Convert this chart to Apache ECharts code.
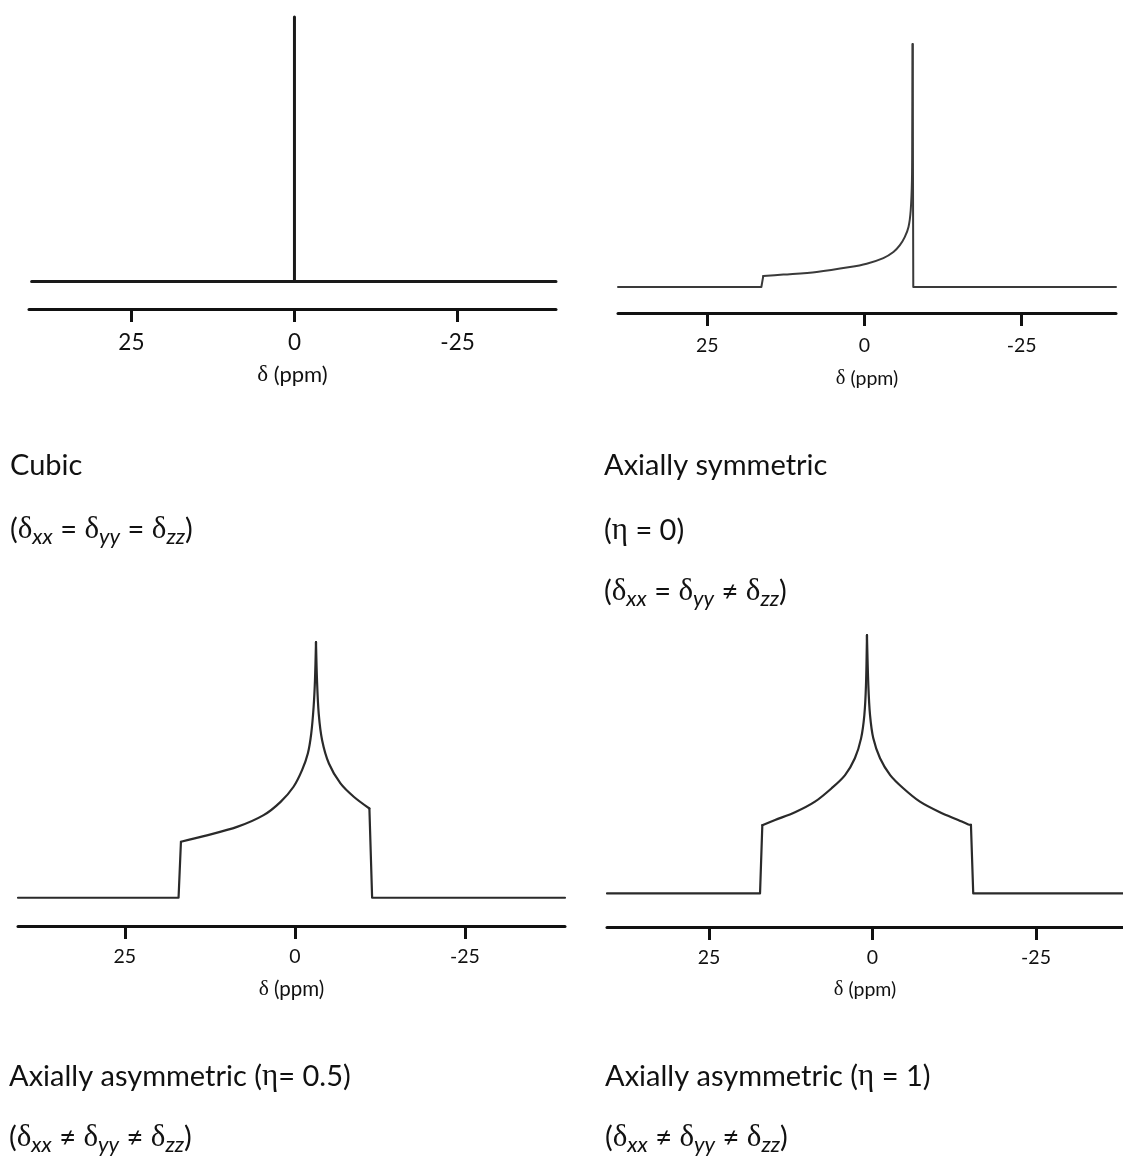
<!DOCTYPE html>
<html>
<head>
<meta charset="utf-8">
<script src="https://cdn.jsdelivr.net/npm/echarts@6/dist/echarts.min.js"></script>
<style>
html,body{margin:0;padding:0;background:#fff;}
#chart{width:1123px;height:1156px;}
</style>
</head>
<body>
<div id="chart"></div>
<script>
// ---- data (chemical shift in ppm, intensity in arbitrary units, peak = 100) ----
const tickValues = [25, 0, -25];
const axisTitle = '{g|δ} (ppm)';

// Cubic
const cubicShift = [40.3, 0, 0, 0, -40.1];
const cubicIntensity = [0, 0, 100, 0, 0];

// Axially symmetric (eta = 0)
const symShift = [39.2, 16.4, 16.1, 12.9, 7.6, 2.3, -0.35, -3.0, -4.6, -5.6, -6.4, -7.0, -7.35, -7.55, -7.6, -7.66, -7.76, -40.0];
const symIntensity = [0, 0, 4.5, 5.1, 6.2, 8.2, 9.6, 11.9, 14.4, 17.1, 20.5, 24.7, 31.5, 43.9, 64.4, 100, 0, 0];

// Axially asymmetric (eta = 0.5)
const halfShift = [40.7, 17.1, 16.75, 13.4, 8.5, 4.6, 2.1, 0.2, -1.05, -1.9, -2.4, -2.75, -2.95, -3.1, -3.25, -3.5, -4.0, -5.0, -6.7, -8.65, -10.95, -11.35, -39.7];
const halfIntensity = [0, 0, 21.9, 24.1, 27.7, 32.3, 37.5, 43.4, 49.9, 56.4, 64.2, 74.6, 85.0, 100, 85.0, 72.0, 61.6, 52.5, 44.7, 39.5, 34.9, 0, 0];

// Axially asymmetric (eta = 1)
const fullShift = [40.6, 17.2, 16.85, 14.9, 11.85, 8.8, 6.25, 4.2, 2.7, 1.75, 1.25, 1.0, 0.85, 0.64, 0.38, -0.12, -1.15, -2.7, -4.7, -7.25, -10.3, -13.1, -14.65, -15.05, -15.4, -38.3];
const fullIntensity = [0, 0, 26.4, 28.4, 31.4, 35.5, 40.7, 45.8, 52.3, 60.0, 69.0, 80.6, 100, 80.6, 69.0, 60.0, 52.3, 45.8, 40.7, 35.5, 31.4, 28.4, 26.7, 26.5, 0, 0];

// captions
const captions = [
  ['Cubic', '({g|δ}{s|xx} = {g|δ}{s|yy} = {g|δ}{s|zz})'],
  ['Axially symmetric', '({g|η} = 0)', '({g|δ}{s|xx} = {g|δ}{s|yy} ≠ {g|δ}{s|zz})'],
  ['Axially asymmetric ({g|η}= 0.5)', '({g|δ}{s|xx} ≠ {g|δ}{s|yy} ≠ {g|δ}{s|zz})'],
  ['Axially asymmetric ({g|η} = 1)', '({g|δ}{s|xx} ≠ {g|δ}{s|yy} ≠ {g|δ}{s|zz})']
];

function zip(a, b) { return a.map((v, i) => [v, b[i]]); }

const SANS = 'Lato, "Open Sans", sans-serif';
const SERIF = '"Liberation Serif", "DejaVu Serif", serif';
const INK = '#111';

// panel layout: grid box, x range, y min, fonts; segments = [startIdx, endIdx, smooth]
const panels = [
  {grid: {left: 29, top: 17, width: 527, height: 292}, xmin: -40.1, xmax: 40.7, ymin: -10.4,
   lab: 22.5, labMargin: 22, name: 22, nameGap: 54, data: zip(cubicShift, cubicIntensity), lw: 3, lc: '#1a1a1a',
   segs: [[0, 4, false]]},
  {grid: {left: 618, top: 44, width: 498, height: 269}, xmin: -40.0, xmax: 39.2, ymin: -10.7,
   lab: 19.5, labMargin: 23, name: 19.5, nameGap: 55, data: zip(symShift, symIntensity), lw: 2, lc: '#3a3a3a',
   segs: [[0, 2, false], [2, 15, true], [15, 17, false]]},
  {grid: {left: 18, top: 642, width: 547, height: 284}, xmin: -39.7, xmax: 40.7, ymin: -11.05,
   lab: 19.5, labMargin: 21, name: 20.5, nameGap: 52, data: zip(halfShift, halfIntensity), lw: 2.2, lc: '#2a2a2a',
   segs: [[0, 2, false], [2, 13, true], [13, 20, true], [20, 22, false]]},
  {grid: {left: 607, top: 635, width: 516, height: 292}, xmin: -38.3, xmax: 40.6, ymin: -13.0,
   lab: 19.5, labMargin: 21, name: 19.5, nameGap: 52, data: zip(fullShift, fullIntensity), lw: 2.2, lc: '#2a2a2a',
   segs: [[0, 2, false], [2, 12, true], [12, 23, true], [23, 25, false]]}
];

const series = [];
panels.forEach((p, i) => {
  p.segs.forEach(([a, b, sm]) => {
    series.push({
      type: 'line', xAxisIndex: i, yAxisIndex: i, data: p.data.slice(a, b + 1),
      symbol: 'none', showSymbol: false, clip: false,
      smooth: sm ? 0.3 : false,
      lineStyle: {color: p.lc, width: p.lw, join: 'round', cap: 'round'}
    });
  });
});

const option = {
  animation: false,
  backgroundColor: '#fff',
  grid: panels.map(p => Object.assign({containLabel: false}, p.grid)),
  xAxis: panels.map((p, i) => ({
    type: 'value', gridIndex: i, inverse: true, min: p.xmin, max: p.xmax,
    axisLine: {show: true, onZero: false, lineStyle: {color: INK, width: 3}},
    axisTick: {show: true, customValues: tickValues, length: 13, lineStyle: {color: INK, width: 3}},
    axisLabel: {show: true, customValues: tickValues, margin: p.labMargin, fontSize: p.lab, fontFamily: SANS, color: INK},
    splitLine: {show: false},
    name: axisTitle, nameLocation: 'middle', nameGap: p.nameGap,
    nameTextStyle: {fontSize: p.name, fontFamily: SANS, color: INK,
      rich: {g: {fontSize: p.name + 1, fontFamily: SERIF, color: INK}}}
  })),
  yAxis: panels.map((p, i) => ({
    type: 'value', gridIndex: i, min: p.ymin, max: 100, show: false,
    axisLine: {show: false}, axisTick: {show: false}, axisLabel: {show: false}, splitLine: {show: false}
  })),
  series: series,
  graphic: []
};

function captionRich() {
  return {
    g: {fontSize: 31, fontFamily: SERIF, fill: INK, lineHeight: 36, verticalAlign: 'middle'},
    s: {fontSize: 22, fontFamily: SANS, fontStyle: 'italic', fill: INK, lineHeight: 22, verticalAlign: 'bottom'}
  };
}
const capPos = [
  {x: 10, ys: [466, 530]},
  {x: 604, ys: [466, 531, 592]},
  {x: 9, ys: [1077, 1138]},
  {x: 605, ys: [1077, 1138]}
];
captions.forEach((lines, k) => {
  lines.forEach((t, j) => {
    option.graphic.push({
      type: 'text', x: capPos[k].x, y: capPos[k].ys[j],
      style: {text: t, fontSize: 29, fontFamily: SANS, fill: INK, lineHeight: 36,
        verticalAlign: 'middle', align: 'left', rich: captionRich()}
    });
  });
});

const chart = echarts.init(document.getElementById('chart'), null, {renderer: 'canvas'});
chart.setOption(option);
</script>
</body>
</html>
